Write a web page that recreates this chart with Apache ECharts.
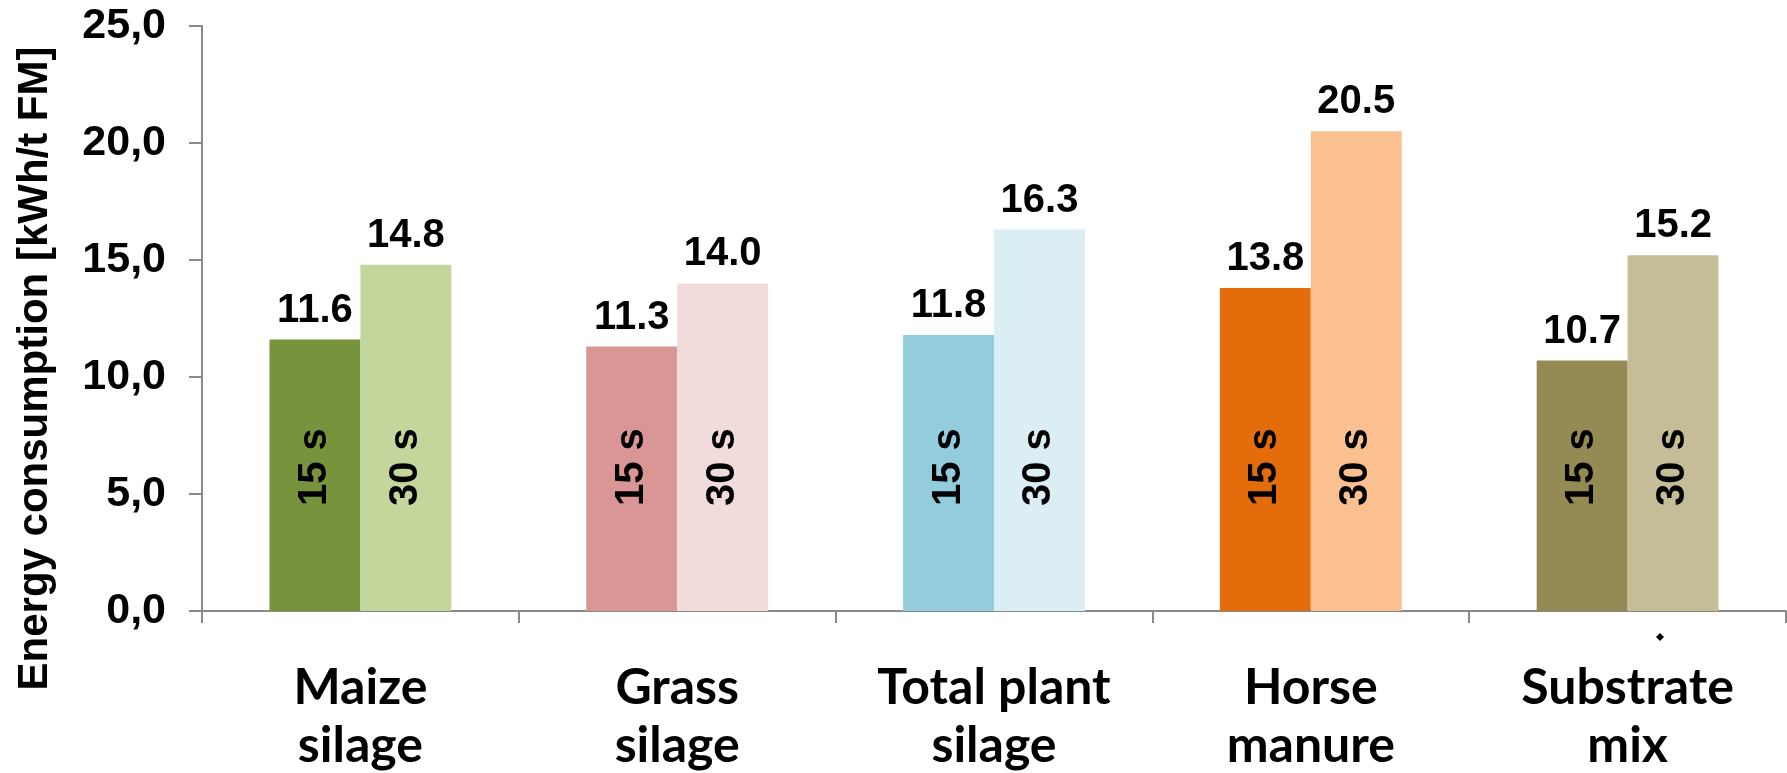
<!DOCTYPE html>
<html>
<head>
<meta charset="utf-8">
<script src="https://cdn.jsdelivr.net/npm/echarts@6/dist/echarts.min.js"></script>
<style>
  html, body { margin: 0; padding: 0; background: #ffffff; }
  #chart { width: 1787px; height: 773px; }
</style>
</head>
<body>
<div id="chart"></div>
<script>
// Substrates on the category axis
const categories = ['Maize\nsilage', 'Grass\nsilage', 'Total plant\nsilage', 'Horse\nmanure', 'Substrate\nmix'];
// Energy consumption per mixing interval [kWh/t FM]
const values15s = [11.6, 11.3, 11.8, 13.8, 10.7];
const values30s = [14.8, 14.0, 16.3, 20.5, 15.2];
// Labels written inside the bars
const durationLabels = ['15 s', '30 s'];
// Value axis ticks
const yTicks = { min: 0, max: 25, interval: 5 };

// Colours per substrate: darker shade for 15 s, lighter for 30 s
const colors15s = ['#77933C', '#D99694', '#93CDDD', '#E46C0A', '#948A54'];
const colors30s = ['#C3D69B', '#F2DCDB', '#DBEEF4', '#FAC090', '#C4BD97'];

const CATEGORY_GAP = 0.426;
const axisColor = '#898989';

const valueLabel = {
  show: true,
  position: 'top',
  distance: 9,
  color: '#000',
  fontFamily: 'Liberation Sans, Arial, sans-serif',
  fontWeight: 'bold',
  fontSize: 40,
  formatter: p => p.value.toFixed(1)
};

function barSeries(name, values, colors) {
  return {
    name: name,
    type: 'bar',
    barGap: '0%',
    barCategoryGap: (CATEGORY_GAP * 100) + '%',
    data: values.map((v, i) => ({ value: v, itemStyle: { color: colors[i] } })),
    label: valueLabel,
    emphasis: { disabled: true },
    z: 2
  };
}

// Rotated duration text inside each bar, at a fixed height above the axis
function durationSeries(text, side) {
  return {
    type: 'custom',
    silent: true,
    z: 5,
    data: categories.map((c, i) => [i]),
    renderItem: function (params, api) {
      const base = api.coord([api.value(0), 0]);
      const band = api.size([1, 0])[0];
      const barW = band * (1 - CATEGORY_GAP) / 2;
      return {
        type: 'text',
        x: base[0] + side * barW / 2,
        y: base[1] - 105,
        rotation: Math.PI / 2,
        style: {
          text: text,
          fill: '#000',
          font: 'bold 40px "Liberation Sans", Arial, sans-serif',
          align: 'left',
          verticalAlign: 'middle'
        }
      };
    }
  };
}

const chart = echarts.init(document.getElementById('chart'), null, { renderer: 'canvas' });

chart.setOption({
  backgroundColor: '#ffffff',
  animation: false,
  grid: { left: 202, right: 1, top: 26, bottom: 162, containLabel: false, outerBoundsMode: 'none' },
  xAxis: {
    type: 'category',
    data: categories,
    axisLine: { show: true, lineStyle: { color: axisColor, width: 2 } },
    axisTick: { show: true, length: 12, interval: 0, lineStyle: { color: axisColor, width: 2 } },
    axisLabel: {
      interval: 0,
      margin: 48,
      color: '#000',
      fontFamily: 'Lato, sans-serif',
      fontWeight: 'bold',
      fontSize: 50,
      lineHeight: 58
    }
  },
  yAxis: {
    type: 'value',
    min: yTicks.min,
    max: yTicks.max,
    interval: yTicks.interval,
    name: 'Energy consumption [kWh/t FM]',
    nameLocation: 'middle',
    nameRotate: 90,
    nameGap: 146,
    nameTextStyle: {
      color: '#000',
      fontFamily: '"Liberation Sans", Arial, sans-serif',
      fontWeight: 'bold',
      fontSize: 42,
      padding: [0, 100, 0, 0]
    },
    axisLine: { show: true, lineStyle: { color: axisColor, width: 2 } },
    axisTick: { show: true, length: 13, lineStyle: { color: axisColor, width: 2 } },
    splitLine: { show: false },
    axisLabel: {
      margin: 36,
      color: '#000',
      fontFamily: 'Liberation Sans, Arial, sans-serif',
      fontWeight: 'bold',
      fontSize: 43,
      formatter: v => v.toFixed(1).replace('.', ',')
    }
  },
  series: [
    barSeries('15 s', values15s, colors15s),
    barSeries('30 s', values30s, colors30s),
    durationSeries(durationLabels[0], -1),
    durationSeries(durationLabels[1], 1)
  ],
  graphic: [{
    // small stray marker below the last group
    type: 'polygon',
    shape: { points: [[1660, 633], [1664, 637], [1660, 641], [1656, 637]] },
    style: { fill: '#000' }
  }]
});
</script>
</body>
</html>
